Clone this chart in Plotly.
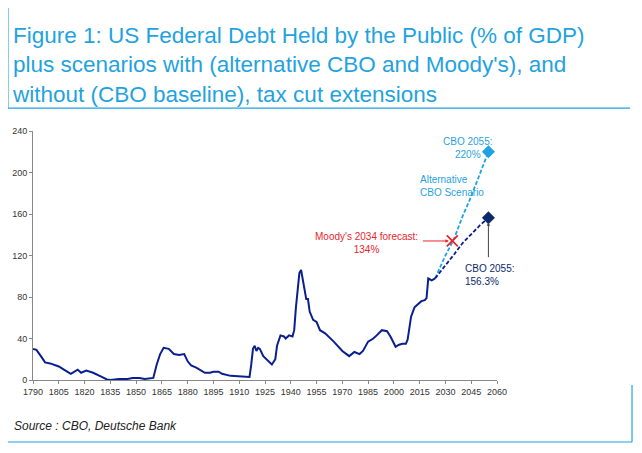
import plotly.graph_objects as go

# Historical debt held by the public (% of GDP)
hist_years = [1790, 1792, 1795, 1797, 1800, 1803, 1805, 1808, 1812, 1816, 1818, 1821, 1825, 1830,
              1833, 1835, 1840, 1845, 1848, 1852, 1855, 1860, 1862, 1864, 1866, 1869, 1872, 1875,
              1878, 1880, 1882, 1885, 1890, 1893, 1895, 1898, 1900, 1905, 1910, 1916, 1917, 1918,
              1919, 1920, 1921, 1922, 1924, 1927, 1929, 1931, 1932, 1934, 1936, 1937, 1939, 1941,
              1942, 1943, 1944, 1945, 1946, 1947, 1948, 1949, 1950, 1951, 1953, 1955, 1957, 1960,
              1965, 1970, 1974, 1977, 1980, 1982, 1985, 1988, 1990, 1993, 1996, 1998, 2001, 2003,
              2005, 2007, 2008, 2009, 2010, 2012, 2014, 2016, 2018, 2019, 2020, 2021, 2022, 2024]
hist_values = [30, 29, 22, 17, 16, 14, 13, 10, 6, 10, 7, 9, 7, 3,
               0.5, 0, 1, 1, 2, 2, 1, 2, 15, 25, 31, 30, 25, 24,
               25, 18, 14, 12, 7, 7, 8, 8, 6, 4, 3.5, 3, 15, 30,
               33, 28, 31, 30, 23, 18, 15, 20, 33, 43, 42, 40, 43, 42,
               48, 70, 90, 103, 106, 96, 84, 78, 78, 66, 58, 56, 48, 45,
               37, 28, 23, 27, 25, 28, 37, 40, 43, 48, 47, 42, 32, 34,
               35, 35, 39, 52, 61, 70, 73, 76, 77, 79, 98, 97, 96, 98]

proj_years = [2024, 2030, 2035, 2040, 2045, 2050, 2055]
cbo_base = [98, 110, 121, 132, 141, 149, 156.3]
cbo_alt = [98, 120, 136, 158, 177, 198, 220]

moodys_year, moodys_value = 2034, 134

navy = "#0A1F8F"
light = "#1FA3E0"
dark_navy = "#0B2A6B"
red = "#E8262A"

fig = go.Figure()
fig.add_trace(go.Scatter(x=hist_years, y=hist_values, mode="lines",
                         line=dict(color=navy, width=2)))
fig.add_trace(go.Scatter(x=proj_years, y=cbo_alt, mode="lines",
                         line=dict(color=light, width=1.8, dash="4px,2px")))
fig.add_trace(go.Scatter(x=proj_years, y=cbo_base, mode="lines",
                         line=dict(color=navy, width=1.8, dash="4px,2px")))
fig.add_trace(go.Scatter(x=[proj_years[-1]], y=[cbo_alt[-1]], mode="markers",
                         marker=dict(symbol="diamond", size=10, color=light)))
fig.add_trace(go.Scatter(x=[proj_years[-1]], y=[cbo_base[-1]], mode="markers",
                         marker=dict(symbol="diamond", size=10, color=dark_navy)))
fig.add_trace(go.Scatter(x=[moodys_year], y=[moodys_value], mode="markers",
                         marker=dict(symbol="x-thin", size=11, color=red,
                                     line=dict(color=red, width=1.8))))

fnt = dict(family="Arial, Liberation Sans", size=10)
fig.add_annotation(x=2043, y=224, text="CBO 2055:<br>220%", showarrow=False,
                   font=dict(fnt, color=light))
fig.add_annotation(x=2014, y=187, text="Alternative<br>CBO Scenario", showarrow=False,
                   xanchor="left", align="left", font=dict(fnt, color=light))
fig.add_annotation(x=2040, y=101, text="CBO 2055:<br>156.3%", showarrow=False,
                   xanchor="left", align="left", font=dict(fnt, color=dark_navy))
fig.add_annotation(x=2055, y=152, ax=2055, ay=117, xref="x", yref="y", axref="x", ayref="y",
                   text="", showarrow=True, arrowhead=2, arrowsize=0.7, arrowwidth=1,
                   arrowcolor="#444")
fig.add_annotation(x=1984, y=132, text="Moody's 2034 forecast:<br>134%", showarrow=False,
                   xanchor="center", font=dict(fnt, color=red))
fig.add_annotation(x=2032, y=134, ax=2016, ay=134, xref="x", yref="y", axref="x", ayref="y",
                   text="", showarrow=True, arrowhead=2, arrowsize=0.7, arrowwidth=1,
                   arrowcolor=red)

fig.add_annotation(xref="paper", yref="paper", x=-0.05, y=1.44, xanchor="left", yanchor="top",
                   text="Figure 1: US Federal Debt Held by the Public (% of GDP)<br>"
                        "plus scenarios with (alternative CBO and Moody's), and<br>"
                        "without (CBO baseline), tax cut extensions",
                   showarrow=False, align="left",
                   font=dict(family="Arial, Liberation Sans", size=22.5, color=light))
fig.add_annotation(xref="paper", yref="paper", x=-0.045, y=-0.15, xanchor="left", yanchor="top",
                   text="<i>Source : CBO, Deutsche Bank</i>", showarrow=False,
                   font=dict(family="Arial, Liberation Sans", size=12, color="#222"))

# frame lines of the report box
line_style = dict(color=light, width=1.2)
fig.add_shape(type="line", xref="paper", yref="paper", x0=-0.054, x1=-0.054, y0=1.55, y1=1.092,
              line=line_style)
fig.add_shape(type="line", xref="paper", yref="paper", x0=-0.054, x1=1.287, y0=1.092, y1=1.092,
              line=line_style)
fig.add_shape(type="line", xref="paper", yref="paper", x0=-0.054, x1=1.291, y0=-0.249, y1=-0.249,
              line=line_style)
fig.add_shape(type="line", xref="paper", yref="paper", x0=1.291, x1=1.291, y0=-0.249, y1=-0.02,
              line=line_style)

fig.update_layout(
    width=642, height=453,
    margin=dict(l=25, r=153, t=123, b=81),
    paper_bgcolor="white", plot_bgcolor="white",
    showlegend=False,
    font=dict(family="Arial, Liberation Sans", size=9, color="#333"),
)
fig.update_xaxes(range=[1790, 2060], tickvals=list(range(1790, 2061, 15)),
                 showgrid=False, showline=True, linecolor="#888", ticks="outside",
                 ticklen=3, tickcolor="#888", zeroline=False, automargin=False)
fig.update_yaxes(range=[0, 240], tickvals=list(range(0, 241, 40)),
                 showgrid=False, showline=True, linecolor="#888", ticks="outside",
                 ticklen=3, tickcolor="#888", zeroline=False, automargin=False)

fig.write_html("out.html")
